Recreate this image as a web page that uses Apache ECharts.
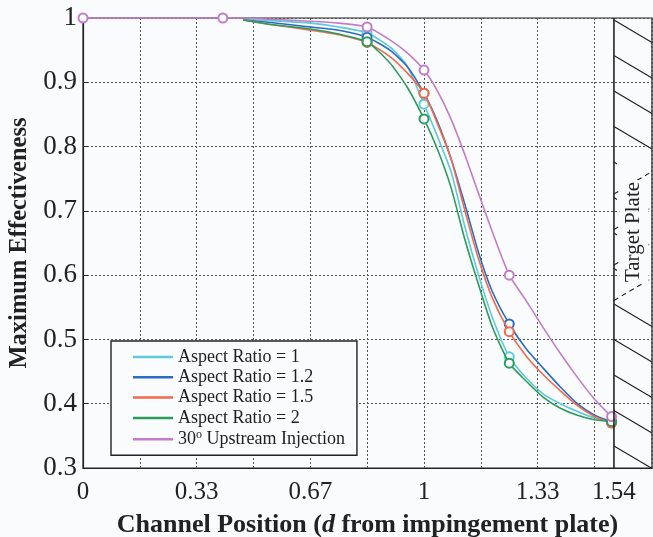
<!DOCTYPE html>
<html>
<head>
<meta charset="utf-8">
<script src="https://cdn.jsdelivr.net/npm/echarts@6/dist/echarts.min.js"></script>
<style>
html,body{margin:0;padding:0;background:#fafbfd;}
#chart{width:653px;height:537px;}
</style>
</head>
<body>
<div id="chart"></div>
<script>
// ---- data ----
const xPos = [0.47, 0.55, 0.667, 0.75, 0.833, 0.9, 0.95, 1.0, 1.04, 1.08, 1.12, 1.16, 1.2, 1.25, 1.3, 1.35, 1.4, 1.45, 1.5, 1.55];
const markerX = [0, 0.41, 0.833, 1.0, 1.25, 1.55];
const ar1   = [0.998, 0.996, 0.992, 0.986, 0.977, 0.955, 0.926, 0.866, 0.815, 0.760, 0.675, 0.600, 0.535, 0.473, 0.440, 0.415, 0.400, 0.388, 0.378, 0.372];
const ar12  = [0.997, 0.993, 0.986, 0.981, 0.970, 0.950, 0.925, 0.883, 0.838, 0.780, 0.710, 0.635, 0.575, 0.524, 0.485, 0.455, 0.426, 0.400, 0.382, 0.372];
const ar15  = [0.997, 0.990, 0.981, 0.974, 0.962, 0.940, 0.915, 0.883, 0.835, 0.780, 0.700, 0.625, 0.565, 0.512, 0.474, 0.445, 0.420, 0.397, 0.380, 0.370];
const ar2   = [0.997, 0.990, 0.983, 0.975, 0.963, 0.930, 0.893, 0.843, 0.795, 0.735, 0.655, 0.585, 0.520, 0.463, 0.435, 0.410, 0.393, 0.382, 0.375, 0.372];
const inj30X = [0, 0.41].concat(xPos);
const inj30  = [1.0, 1.0, 1.0, 0.998, 0.995, 0.992, 0.986, 0.966, 0.946, 0.919, 0.886, 0.842, 0.787, 0.727, 0.668, 0.600, 0.560, 0.518, 0.478, 0.441, 0.407, 0.380];
const seriesNames = ['Aspect Ratio = 1', 'Aspect Ratio = 1.2', 'Aspect Ratio = 1.5', 'Aspect Ratio = 2', '30{sup|o} Upstream Injection'];
const seriesColors = ['#5ccbd9', '#2a6dc4', '#f4694a', '#2d9b5c', '#c27cc9'];
const xTickLabels = {'0': '0', '0.333': '0.33', '0.667': '0.67', '1': '1', '1.333': '1.33', '1.557': '1.54'};
const plateStart = 1.557;
const xMax = 1.6686;
const yMin = 0.3, yMax = 1.0;

const FONT = 'Liberation Serif';
const BG = '#fafbfd';

function buildData(xs, ys) {
  return xs.map((x, i) => ({
    value: [x, ys[i]],
    symbol: markerX.indexOf(x) >= 0 ? 'emptyCircle' : 'none'
  }));
}

const lineSeries = [
  [xPos, ar1], [xPos, ar12], [xPos, ar15], [xPos, ar2], [inj30X, inj30]
].map((d, i) => ({
  type: 'line',
  name: seriesNames[i],
  data: buildData(d[0], d[1]),
  symbol: 'none',
  showSymbol: true,
  symbolSize: 9,
  smooth: 0.2,
  lineStyle: { color: seriesColors[i], width: 1.6 },
  itemStyle: { color: seriesColors[i], borderWidth: 1.5 },
  z: 3 + i,
  animation: false
}));

const plateSeries = {
  type: 'custom',
  name: 'plate',
  data: [[plateStart, yMax, xMax, yMin]],
  clip: false,
  silent: true,
  z: 10,
  animation: false,
  renderItem: function (params, api) {
    const tl = api.coord([api.value(0), api.value(1)]);
    const br = api.coord([api.value(2), api.value(3)]);
    const x0 = tl[0], x1 = br[0], yT = tl[1], yB = br[1];
    const w = x1 - x0, h = yB - yT;
    const dy = w * 23 / 39;
    const step = h * 35.5 / 450;
    const children = [];
    const st = { stroke: '#222', lineWidth: 1.2 };
    for (let k = 0; k < 13; k++) {
      const ys = yT + 2 + k * step;
      if (k >= 4 && k <= 7) {
        children.push({ type: 'line', shape: { x1: x0, y1: ys, x2: x0 + 3, y2: ys + 2 }, style: st });
        children.push({ type: 'line', shape: { x1: x0, y1: ys + step * 0.9, x2: x1, y2: ys + step * 0.9 - dy }, style: { stroke: '#222', lineWidth: 1.1, lineDash: [5, 4] } });
        continue;
      }
      let ye = ys + dy, xe = x1;
      if (ye > yB) { xe = x0 + (yB - ys) / dy * w; ye = yB; }
      children.push({ type: 'line', shape: { x1: x0, y1: ys, x2: xe, y2: ye }, style: st });
    }
    children.push({ type: 'line', shape: { x1: x0, y1: yT, x2: x0, y2: yB }, style: { stroke: '#222', lineWidth: 1.6 } });
    children.push({
      type: 'text',
      x: (x0 + x1) / 2 + 1,
      y: yT + h * (232 - 18) / 450,
      rotation: Math.PI / 2,
      style: {
        text: 'Target Plate',
        fontFamily: FONT,
        fontSize: 21,
        fill: '#222',
        align: 'center',
        verticalAlign: 'middle',
        backgroundColor: BG,
        padding: [4, 2]
      }
    });
    return { type: 'group', children: children };
  }
};

const chart = echarts.init(document.getElementById('chart'), null, { renderer: 'canvas' });
chart.setOption({
  backgroundColor: BG,
  animation: false,
  textStyle: { fontFamily: FONT },
  grid: { left: 83, right: 1, top: 18, bottom: 69, show: true, borderColor: '#222', borderWidth: 1.2, containLabel: false, outerBoundsMode: 'none' },
  xAxis: {
    type: 'value',
    min: 0,
    max: xMax,
    interval: 1 / 6,
    name: 'Channel Position ({i|d} from impingement plate)',
    nameLocation: 'middle',
    nameGap: 44,
    nameTextStyle: {
      fontFamily: FONT, fontSize: 26, fontWeight: 'bold', color: '#222',
      rich: { i: { fontFamily: FONT, fontSize: 26, fontWeight: 'bold', fontStyle: 'italic', color: '#222' } }
    },
    axisLine: { show: true, lineStyle: { color: '#222', width: 1.2 } },
    axisTick: { show: false },
    splitLine: { show: true, lineStyle: { color: '#555', type: [2, 2], width: 1 } },
    axisLabel: {
      customValues: [0, 1 / 3, 2 / 3, 1, 4 / 3, plateStart],
      showMinLabel: true,
      showMaxLabel: true,
      hideOverlap: false,
      margin: 12,
      fontFamily: FONT, fontSize: 25, color: '#222',
      formatter: function (v) {
        const key = String(Math.round(v * 1000) / 1000);
        return xTickLabels[key] !== undefined ? xTickLabels[key] : '';
      }
    }
  },
  yAxis: {
    type: 'value',
    min: yMin,
    max: yMax,
    interval: 0.1,
    name: 'Maximum Effectiveness',
    nameLocation: 'middle',
    nameGap: 30,
    nameRotate: 90,
    nameTextStyle: { fontFamily: FONT, fontSize: 24.5, fontWeight: 'bold', color: '#222' },
    axisLine: { show: true, lineStyle: { color: '#222', width: 1.2 } },
    axisTick: { show: true, inside: true, length: 5, lineStyle: { color: '#222' } },
    splitLine: { show: true, lineStyle: { color: '#555', type: [2, 2], width: 1 } },
    axisLabel: {
      margin: 6,
      padding: [9, 0, 0, 0],
      fontFamily: FONT, fontSize: 27, color: '#222',
      formatter: function (v) { return String(Math.round(v * 10) / 10); }
    }
  },
  legend: {
    data: seriesNames,
    orient: 'vertical',
    left: 111,
    top: 341,
    backgroundColor: BG,
    borderColor: '#222',
    borderWidth: 1.4,
    borderRadius: 0,
    padding: [7, 12, 7, 22],
    icon: 'rect',
    itemWidth: 40,
    itemHeight: 2.5,
    itemGap: 2.3,
    textStyle: {
      fontFamily: FONT, fontSize: 18, color: '#222',
      rich: { sup: { fontFamily: FONT, fontSize: 12, color: '#222', verticalAlign: 'top', padding: [0, 0, 8, 0] } }
    }
  },
  series: lineSeries.concat([plateSeries])
});
</script>
</body>
</html>
